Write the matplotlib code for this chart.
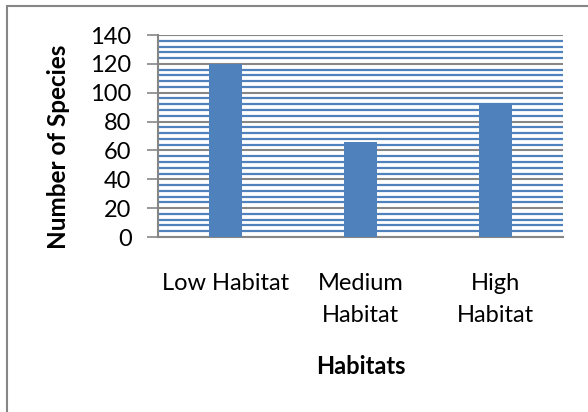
import matplotlib
matplotlib.use("Agg")
import matplotlib.pyplot as plt
from matplotlib.patches import Rectangle
from matplotlib.ticker import MultipleLocator

categories = ["Low Habitat", "Medium\nHabitat", "High\nHabitat"]
values = [120, 66, 92]
yticks = [0, 20, 40, 60, 80, 100, 120, 140]

plt.rcParams['font.family'] = ['Lato', 'DejaVu Sans']

fig = plt.figure(figsize=(5.88, 4.12), dpi=100)
W, H = 588, 412
ax = fig.add_axes([158 / W, 1 - 237 / H, (563 - 158) / W, (237 - 35) / H])

# outer border
fig.patches.append(Rectangle((7 / W, -0.01), 1.0, 1 - 6 / H + 0.01, transform=fig.transFigure,
                             fill=False, edgecolor='#868686', linewidth=1.5))

x = list(range(len(categories)))
ax.bar(x, values, width=0.25, color='#4F81BD', zorder=3)
ax.set_xlim(-0.5, 2.5)
ax.set_ylim(0, 140)
ax.set_yticks(yticks)
ax.yaxis.set_minor_locator(MultipleLocator(4))
ax.grid(which='major', axis='y', color='#868686', linewidth=1.5, zorder=1)
ax.grid(which='minor', axis='y', color='#4F81BD', linewidth=1.6, zorder=1)
ax.tick_params(axis='y', which='minor', length=0)
ax.tick_params(axis='y', which='major', length=8, width=1.2, color='#868686', labelsize=17, pad=11)
ax.set_xticks(x)
ax.set_xticklabels(categories, fontsize=17, linespacing=1.65, va='top')
ax.tick_params(axis='x', length=0, pad=26)
for s in ['top', 'right']:
    ax.spines[s].set_visible(False)
for s in ['left', 'bottom']:
    ax.spines[s].set_color('#868686')
    ax.spines[s].set_linewidth(1.5)
ax.set_axisbelow(True)

fig.text(58 / W, 1 - 147 / H, "Number of Species", rotation=90, fontsize=17.5,
         fontweight='bold', ha='center', va='center')
ax.set_xlabel("Habitats", fontsize=17, fontweight='bold', labelpad=21)

fig.savefig("out.png", dpi=100)
